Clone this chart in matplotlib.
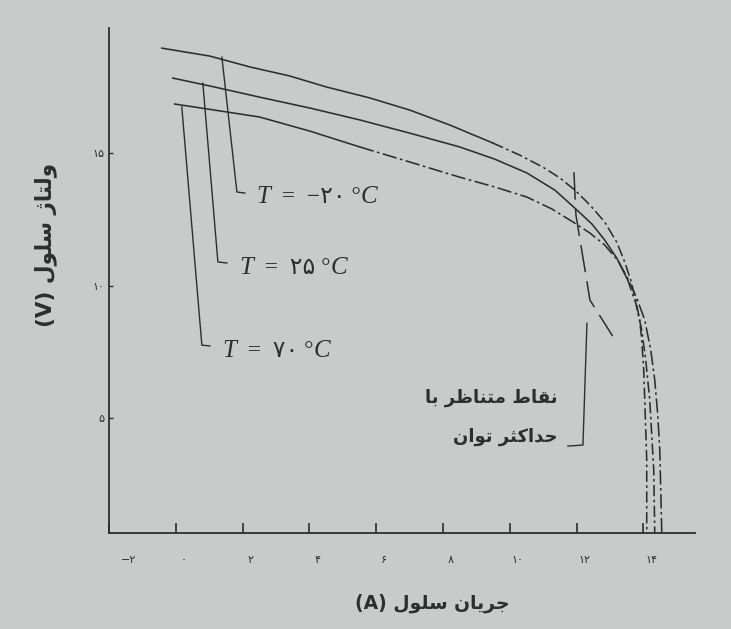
import matplotlib
matplotlib.use("Agg")
import matplotlib.pyplot as plt
from matplotlib.transforms import ScaledTranslation

# ---------------- data ----------------
# T = -20 C
i_m20 = [-0.42, 1.02, 2.22, 3.41, 4.52, 5.81, 7.01, 8.20, 9.49, 10.30, 10.99, 11.50, 11.95,
         12.40, 12.84, 13.20, 13.44, 13.62, 13.77, 13.89, 13.95, 14.01, 14.04, 14.07, 14.10, 14.10]
v_m20 = [18.96, 18.66, 18.25, 17.91, 17.49, 17.08, 16.62, 16.06, 15.38, 14.92, 14.47, 14.06, 13.60,
         13.04, 12.40, 11.64, 10.89, 10.21, 9.45, 8.70, 7.94, 6.81, 5.68, 4.55, 3.42, 0.66]
# T = 25 C
i_25 = [-0.09, 1.17, 2.51, 4.01, 5.51, 7.01, 8.50, 9.55, 10.51, 11.35, 12.01, 12.46, 12.84,
        13.20, 13.53, 13.77, 13.95, 14.07, 14.19, 14.25, 14.31, 14.34]
v_25 = [17.83, 17.49, 17.11, 16.70, 16.25, 15.75, 15.23, 14.77, 14.25, 13.60, 12.85, 12.32, 11.72,
        11.04, 10.21, 9.34, 8.32, 7.19, 5.68, 4.36, 3.04, 0.66]
# T = 70 C
i_70 = [-0.03, 1.17, 2.51, 4.01, 5.51, 7.01, 8.50, 9.55, 10.51, 11.26, 11.89, 12.40, 12.84,
        13.23, 13.53, 13.80, 14.04, 14.22, 14.34, 14.43, 14.49, 14.52, 14.55]
v_70 = [16.85, 16.62, 16.36, 15.83, 15.23, 14.66, 14.09, 13.72, 13.34, 12.89, 12.40, 11.98, 11.53,
        10.96, 10.28, 9.53, 8.70, 7.57, 6.43, 5.11, 3.79, 2.28, 0.66]
# locus of maximum power points
i_mpp = [11.92, 11.98, 12.40, 13.08]
v_mpp = [14.28, 12.66, 9.45, 8.09]

x_ticks = [-2, 0, 2, 4, 6, 8, 10, 12, 14]
x_tick_labels = ["−۲", "۰", "۲", "۴", "۶", "۸", "۱۰", "۱۲", "۱۴"]
y_ticks = [5, 10, 15]
y_tick_labels = ["۵", "۱۰", "۱۵"]

# Persian texts written in visual order with presentation forms
def vis(*codes):
    return "".join(chr(c) for c in codes)

w_jarayan = vis(0xFEE5, 0xFE8E, 0xFBFE, 0xFEAE, 0xFE9F)
w_selul = vis(0xFEDD, 0xFEEE, 0xFEE0, 0xFEB3)
w_voltaj = vis(0xFB8A, 0xFE8E, 0xFE98, 0xFEDF, 0xFEED)
w_noghat = vis(0xFEC1, 0xFE8E, 0xFED8, 0xFEE7)
w_motanazer = vis(0xFEAE, 0xFEC7, 0xFE8E, 0xFEE8, 0xFE98, 0xFEE3)
w_ba = vis(0xFE8E, 0xFE91)
w_hadaksar = vis(0xFEAE, 0xFE9C, 0xFB90, 0xFE8D, 0xFEAA, 0xFEA3)
w_tavan = vis(0xFEE5, 0xFE8D, 0xFEEE, 0xFE97)

xlabel = "(A) " + w_selul + " " + w_jarayan
ylabel = "(V) " + w_selul + " " + w_voltaj
note_line1 = w_ba + " " + w_motanazer + " " + w_noghat
note_line2 = w_tavan + " " + w_hadaksar

temp_values = ["−۲۰", "۲۵", "۷۰"]
# leader lines: (point on curve, bottom bend, end)
lead_m20 = ([1.38, 1.83, 2.07], [18.62, 13.53, 13.49])
lead_25 = ([0.81, 1.26, 1.53], [17.64, 10.89, 10.85])
lead_70 = ([0.18, 0.78, 1.02], [16.74, 7.75, 7.72])
text_pos = [(2.40, 13.12), (1.90, 10.45), (1.38, 7.32)]
bracket = ([12.31, 12.19, 11.74], [8.58, 3.98, 3.94])

# ---------------- figure ----------------
bg = "#c8cbc9"
ink = "#2e2e2e"
plt.rcParams["font.family"] = ["DejaVu Sans"]

fig = plt.figure(figsize=(7.31, 6.29), dpi=100, facecolor=bg)
ax = fig.add_axes([109 / 731, 1 - 533 / 629, (695 - 109) / 731, (533 - 28) / 629])
ax.set_facecolor(bg)
ax.set_xlim(-2, 15.545)
ax.set_ylim(0.66, 19.72)

dashdot = (0, (7, 2.2, 1.6, 2.2))
lw = 1.15
# T = -20 C: solid on the left, dash-dot towards the knee
ax.plot(i_m20[:9], v_m20[:9], color=ink, lw=lw)
ax.plot(i_m20[8:], v_m20[8:], color=ink, lw=lw, linestyle=dashdot)
# T = 25 C
ax.plot(i_25[:15], v_25[:15], color=ink, lw=lw)
ax.plot(i_25[14:], v_25[14:], color=ink, lw=lw, linestyle=dashdot)
# T = 70 C
ax.plot(i_70[:5], v_70[:5], color=ink, lw=lw)
ax.plot(i_70[4:], v_70[4:], color=ink, lw=lw, linestyle=(0, (9, 2.2, 1.6, 2.2)))
# max power locus
ax.plot(i_mpp, v_mpp, color=ink, lw=1.1, linestyle=(0, (18, 6)))

for (lx, ly) in (lead_m20, lead_25, lead_70):
    ax.plot(lx, ly, color=ink, lw=1.0)
ax.plot(bracket[0], bracket[1], color=ink, lw=1.0)

fs_t = 18
for (tx, ty), num in zip(text_pos, temp_values):
    t1 = ax.text(tx, ty, "T", fontsize=fs_t, style="italic", family="Liberation Serif",
                 color=ink, va="baseline", ha="left")
    t2 = ax.annotate("  =  " + num + " °", xy=(1, ty), xycoords=(t1, "data"), fontsize=fs_t - 1,
                     family=["Liberation Serif", "DejaVu Sans"], color=ink, va="baseline", ha="left")
    ax.annotate("C", xy=(1, ty), xycoords=(t2, "data"), fontsize=fs_t, style="italic",
                family="Liberation Serif", color=ink, va="baseline", ha="left")

ax.text(11.44, 5.75, note_line1, fontsize=13, color=ink, ha="right", va="center", fontweight="bold")
ax.text(11.44, 4.28, note_line2, fontsize=13, color=ink, ha="right", va="center", fontweight="bold")

for s in ("top", "right"):
    ax.spines[s].set_visible(False)
for s in ("left", "bottom"):
    ax.spines[s].set_color(ink)
    ax.spines[s].set_linewidth(1.3)

ax.set_xticks(x_ticks)
ax.set_xticklabels(x_tick_labels)
ax.tick_params(axis="x", direction="in", length=7, width=1.2, color=ink,
               labelsize=8, labelcolor=ink, pad=16)
ax.set_yticks(y_ticks)
ax.set_yticklabels(y_tick_labels)
ax.tick_params(axis="y", direction="in", length=3, width=1.0, color=ink,
               labelsize=8, labelcolor=ink, pad=3)

for k, lab in enumerate(ax.get_xticklabels()):
    dx = 20 if k == 0 else 8
    lab.set_transform(lab.get_transform() + ScaledTranslation(dx / 100, 0, fig.dpi_scale_trans))

fig.text(432 / 731, 1 - 603 / 629, xlabel, fontsize=13.5, fontweight="bold", color=ink,
         ha="center", va="center")
fig.text(46 / 731, 1 - 245 / 629, ylabel, fontsize=15.5, fontweight="bold", color=ink,
         ha="center", va="center", rotation=90)

fig.savefig("out.png", dpi=100, facecolor=bg)
